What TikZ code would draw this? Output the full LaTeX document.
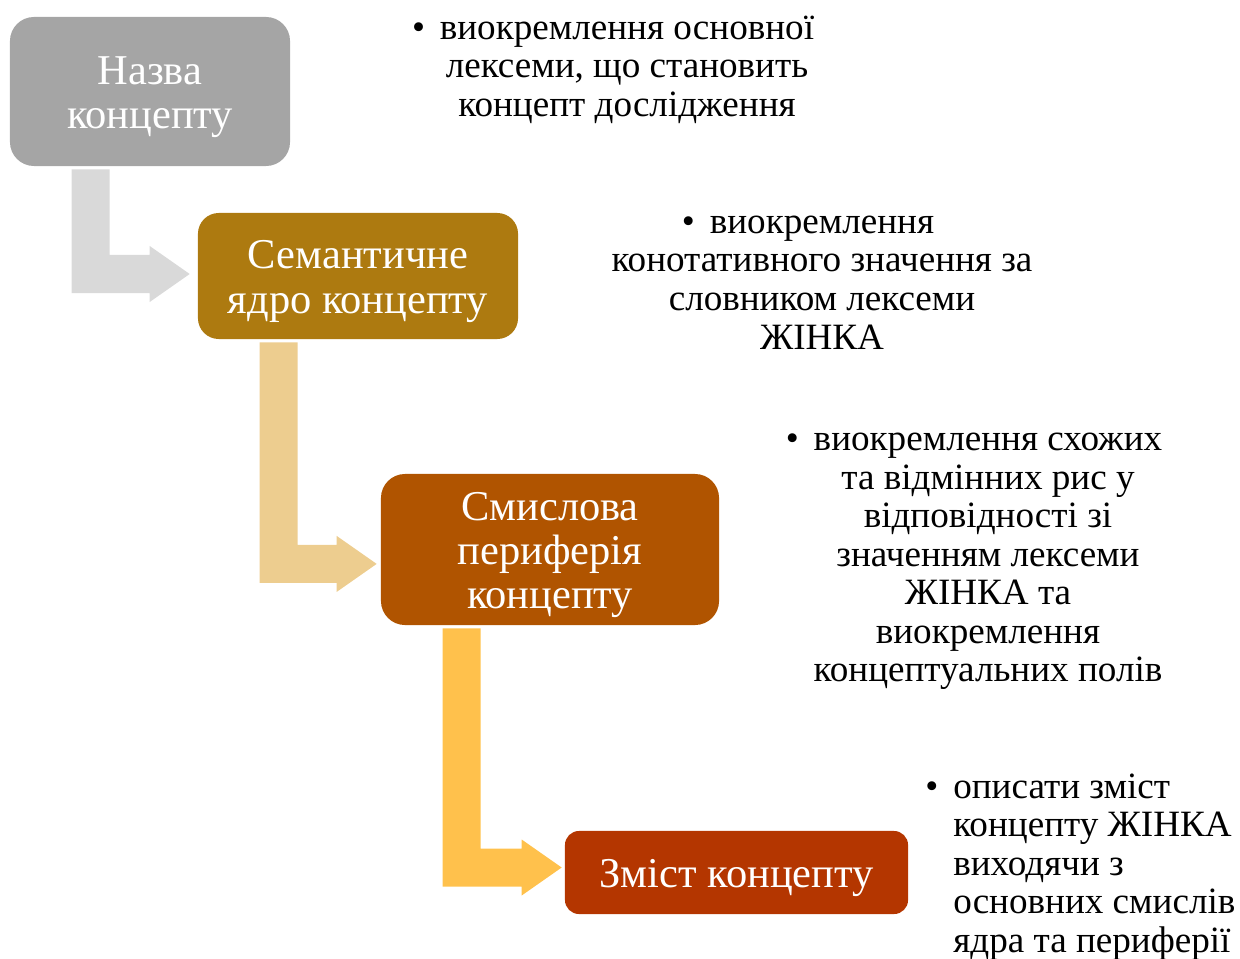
\documentclass[tikz,border=0pt]{standalone}
\usepackage{fontspec}
\setmainfont{Liberation Serif}
\usepackage{tikz}
\usetikzlibrary{calc}

\definecolor{boxgray}{HTML}{A5A5A5}
\definecolor{boxgold}{HTML}{AD7A10}
\definecolor{boxbrown}{HTML}{B05400}
\definecolor{boxred}{HTML}{B43600}
\definecolor{arrgray}{HTML}{D9D9D9}
\definecolor{arrtan}{HTML}{EDCD8F}
\definecolor{arryellow}{HTML}{FFC14C}

% taller first line, pushes box text down a bit
\newcommand{\topstrut}{\rule{0pt}{0.92em}}

% bent arrow: from node, to node, tip shift y, gap before target, colour
\newcommand{\bentarrow}[5]{%
  \fill[#5] let \p1=(#1.south west), \p2=($(#2.west)+(-#4,#3)$) in
    (\x1+1.55cm,\y1-0.075cm) -- (\x1+2.5cm,\y1-0.075cm)
    -- (\x1+2.5cm,\y2+0.475cm) -- (\x2-1cm,\y2+0.475cm)
    -- (\x2-1cm,\y2+0.7cm) -- (\x2,\y2) -- (\x2-1cm,\y2-0.7cm)
    -- (\x2-1cm,\y2-0.475cm) -- (\x1+1.55cm,\y2-0.475cm) -- cycle;}

\begin{document}
\begin{tikzpicture}[x=0.025cm, y=-0.025cm,
    stage/.style={rounded corners=0.6cm, inner sep=0pt, align=center,
      text=white, font=\fontsize{30.2}{31.4}\selectfont},
    note/.style={inner sep=0pt, align=center,
      font=\fontsize{26.4}{27.4}\selectfont}]

    \useasboundingbox (0,0) rectangle (1240,958);

    % Stages
    \node[stage, fill=boxgray, minimum width=7cm, minimum height=3.725cm]
      (name) at (150,91.5) {\topstrut Назва\\концепту};
    \node[stage, fill=boxgold, minimum width=8cm, minimum height=3.15cm,
      rounded corners=0.52cm] (core) at (358,276) {\topstrut Семантичне\\ядро концепту};
    \node[stage, fill=boxbrown, minimum width=8.45cm, minimum height=3.775cm]
      (periph) at (550,549.5) {\topstrut Смислова\\периферія\\концепту};
    \node[stage, fill=boxred, minimum width=8.575cm, minimum height=2.075cm,
      rounded corners=0.35cm] (content) at (736.5,872.5) {\topstrut Зміст концепту};

    % Bent arrows between stages
    \bentarrow{name}{core}{0.05cm}{0.2cm}{arrgray}
    \bentarrow{core}{periph}{-0.36cm}{0.1cm}{arrtan}
    \bentarrow{periph}{content}{0.125cm}{0.075cm}{arryellow}

    % Notes
    \node[note] (n1) at (627,69.5)
      {\llap{\textbullet\hspace{0.4em}}виокремлення основної\\лексеми, що становить\\концепт дослідження};
    \node[note] (n2) at (822,282.5)
      {\llap{\textbullet\hspace{0.4em}}виокремлення\\конотативного значення за\\словником лексеми\\ЖІНКА};
    \node[note] (n3) at (988,561.5)
      {\llap{\textbullet\hspace{0.4em}}виокремлення схожих\\та відмінних рис у\\відповідності зі\\значенням лексеми\\ЖІНКА та\\виокремлення\\концептуальних полів};
    \node[note, align=left, anchor=west] (n4) at (953,867)
      {\llap{\textbullet\hspace{0.4em}}описати зміст\\концепту ЖІНКА\\виходячи з\\основних смислів\\ядра та периферії};
\end{tikzpicture}
\end{document}
